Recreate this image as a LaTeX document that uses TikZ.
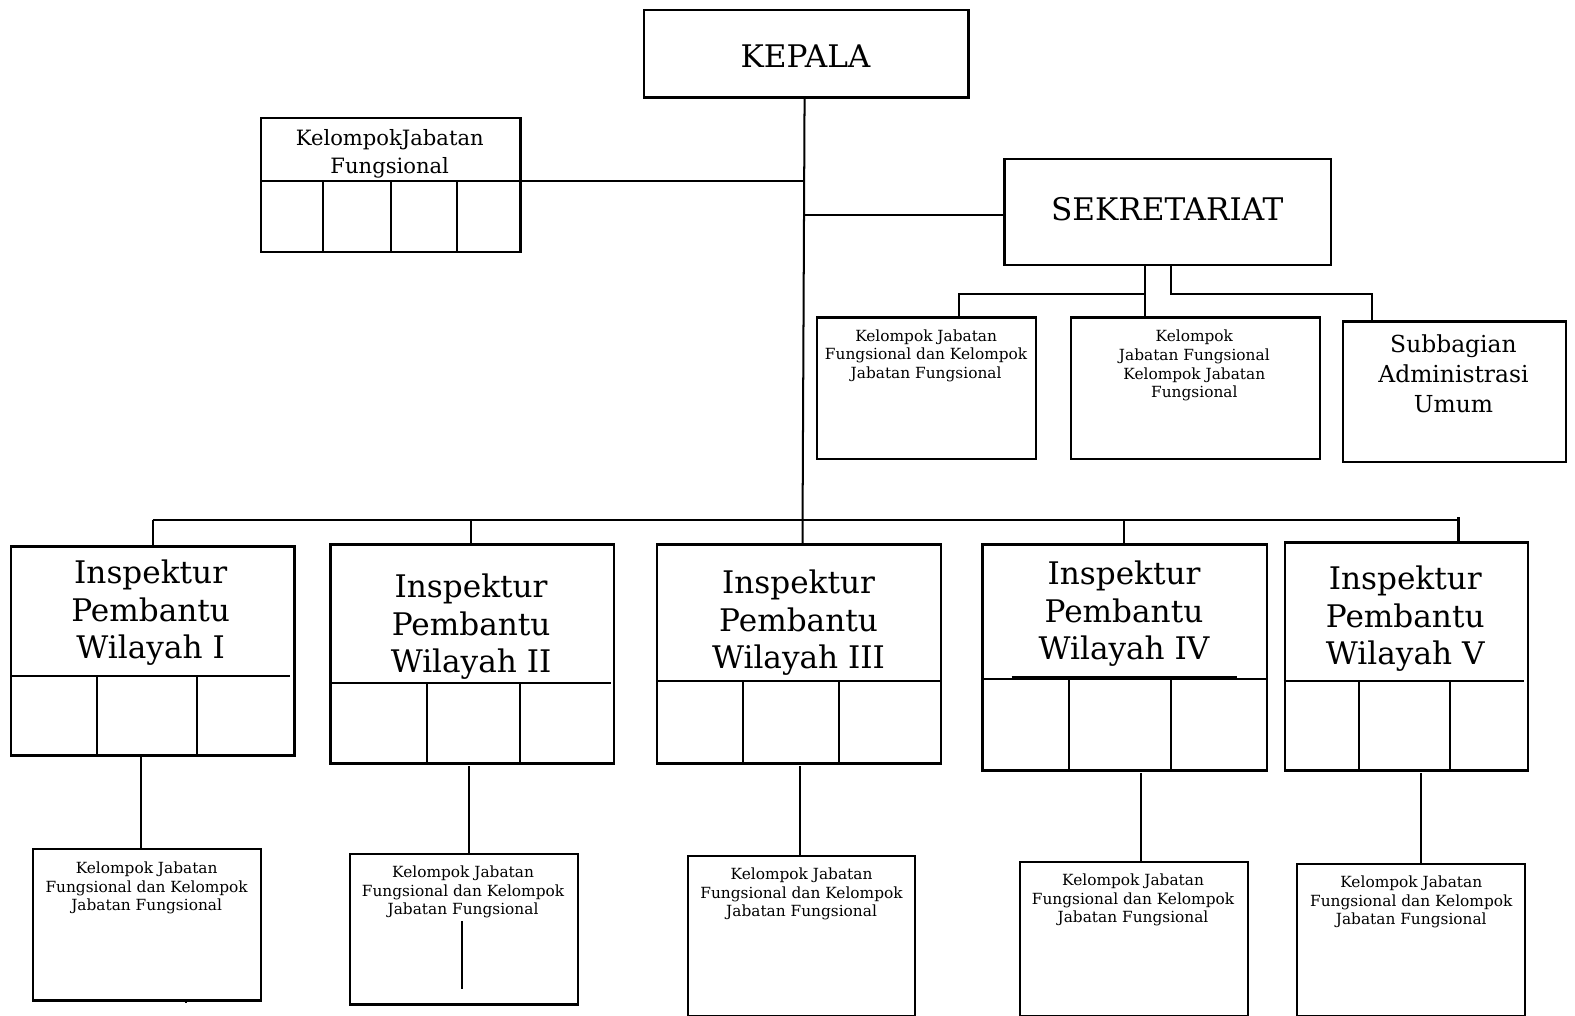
\documentclass[tikz,border=0pt]{standalone}
\usepackage{fontspec}
\setmainfont{DejaVu Serif}
\begin{document}
\begin{tikzpicture}[x=1pt,y=-1pt,
  box/.style={draw, line width=2.2pt, inner sep=0pt, anchor=north west},
  ln/.style={line width=2pt},
  big/.style={align=center, font=\fontsize{31}{37}\selectfont},
  mid/.style={align=center, font=\fontsize{21}{28}\selectfont},
  sub/.style={align=center, font=\fontsize{23.3}{29.5}\selectfont},
  small/.style={align=center, font=\fontsize{15.3}{18.5}\selectfont}]
\useasboundingbox (0,0) rectangle (1568,1011);
% boxes
\node[box, minimum width=323pt, minimum height=87pt] (kepala) at (640,9) {};
\node[box, minimum width=258pt, minimum height=134pt] (kjf) at (259,116) {};
\node[box, minimum width=325pt, minimum height=106pt] (sek) at (999,157) {};
\node[box, minimum width=218pt, minimum height=141pt] (sa) at (812,315) {};
\node[box, minimum width=248pt, minimum height=141pt] (sb) at (1065,315) {};
\node[box, minimum width=222pt, minimum height=140pt] (sc) at (1336,319) {};
\node[box, minimum width=282pt, minimum height=208pt] (i1) at (10,543) {};
\node[box, minimum width=282pt, minimum height=218pt] (i2) at (328,541) {};
\node[box, minimum width=283pt, minimum height=218pt] (i3) at (653,541) {};
\node[box, minimum width=283pt, minimum height=225pt] (i4) at (977,541) {};
\node[box, minimum width=242pt, minimum height=227pt] (i5) at (1278,539) {};
\node[box, minimum width=227pt, minimum height=151pt] (b1) at (32,844) {};
\node[box, minimum width=227pt, minimum height=150pt] (b2) at (347,849) {};
\node[box, minimum width=226pt, minimum height=159pt] (b3) at (684,851) {};
\node[box, minimum width=227pt, minimum height=153pt] (b4) at (1014,857) {};
\node[box, minimum width=227pt, minimum height=151pt] (b5) at (1290,859) {};
% internal dividers
\draw[ln] (259,180) -- (517,180);
\foreach \x in {322,389,455} \draw[ln] (\x,180) -- (\x,250);
\draw[ln] (10,673) -- (289,673);
\foreach \x in {97,196} \draw[ln] (\x,673) -- (\x,751);
\draw[ln] (328,680) -- (608,680);
\foreach \x in {425,518} \draw[ln] (\x,680) -- (\x,759);
\draw[ln] (653,678) -- (936,678);
\foreach \x in {740,835} \draw[ln] (\x,678) -- (\x,759);
\draw[ln] (977,676) -- (1260,676);
\draw[line width=1.2pt] (1007,674) -- (1231,674);
\foreach \x in {1064,1166} \draw[ln] (\x,676) -- (\x,766);
\draw[ln] (1278,678) -- (1517,678);
\foreach \x in {1353,1444} \draw[ln] (\x,678) -- (\x,766);
\draw[line width=2.6pt] (460,917) -- (460,985);
\draw[ln] (185,995) -- (185,999);
% texts
\node[big] (tkepala) at (802,56) {KEPALA};
\node[mid] (tkjf) at (388,153) {KelompokJabatan\\Fungsional};
\node[big] (tsek) at (1162,208) {SEKRETARIAT};
\node[small] (tsa) at (922,354) {Kelompok Jabatan\\Fungsional dan Kelompok\\Jabatan Fungsional};
\node[small] (tsb) at (1189,364) {Kelompok\\Jabatan Fungsional\\Kelompok Jabatan\\Fungsional};
\node[sub] (tsc) at (1447,372) {Subbagian\\Administrasi\\Umum};
\node[big] (ti1) at (150,610) {Inspektur\\Pembantu\\Wilayah I};
\node[big] (ti2) at (469,624) {Inspektur\\Pembantu\\Wilayah II};
\node[big] (ti3) at (795,620) {Inspektur\\Pembantu\\Wilayah III};
\node[big] (ti4) at (1119,611) {Inspektur\\Pembantu\\Wilayah IV};
\node[big] (ti5) at (1399,616) {Inspektur\\Pembantu\\Wilayah V};
\node[small] (tb1) at (146,884) {Kelompok Jabatan\\Fungsional dan Kelompok\\Jabatan Fungsional};
\node[small] (tb2) at (461,888) {Kelompok Jabatan\\Fungsional dan Kelompok\\Jabatan Fungsional};
\node[small] (tb3) at (798,890) {Kelompok Jabatan\\Fungsional dan Kelompok\\Jabatan Fungsional};
\node[small] (tb4) at (1128,896) {Kelompok Jabatan\\Fungsional dan Kelompok\\Jabatan Fungsional};
\node[small] (tb5) at (1405,898) {Kelompok Jabatan\\Fungsional dan Kelompok\\Jabatan Fungsional};
% connector coordinates
\coordinate (top) at (801,96);
\coordinate (bus3) at (799,518);
\coordinate (bus1) at (152,518);
\coordinate (bus2) at (469,518);
\coordinate (bus4) at (1119,518);
\coordinate (bus5) at (1452,518);
\coordinate (kjfj) at (801,180);
\coordinate (kjfe) at (517,180);
\coordinate (sekj) at (801,214);
\coordinate (sek1) at (1140,263);
\coordinate (sek2) at (1166,263);
% connectors
\draw[ln] (top) -- (bus3) -- (bus3 |- i3.north);
\draw[ln] (kjfe) -- (kjfj);
\draw[ln] (sekj) -- (sek.west |- sekj);
\draw[ln] (bus1) -- (bus5);
\draw[ln] (bus1) -- (bus1 |- i1.north);
\draw[ln] (bus2) -- (bus2 |- i2.north);
\draw[ln] (bus4) -- (bus4 |- i4.north);
\draw[ln] (1452,515) -- (bus5 |- i5.north);
\draw[ln] (sek1) -- (sek1 |- sb.north);
\draw[ln] (1140,293) -- (955,293) -- (955,315 |- sa.north);
\draw[ln] (sek2) -- (1166,293) -- (1366,293) -- (1366,319 |- sc.north);
\draw[ln] (140,751 |- i1.south) -- (140,844 |- b1.north);
\draw[ln] (467,763) -- (467,849 |- b2.north);
\draw[ln] (796,763) -- (796,851 |- b3.north);
\draw[ln] (1136,770) -- (1136,857 |- b4.north);
\draw[ln] (1415,770) -- (1415,859 |- b5.north);
\end{tikzpicture}
\end{document}
